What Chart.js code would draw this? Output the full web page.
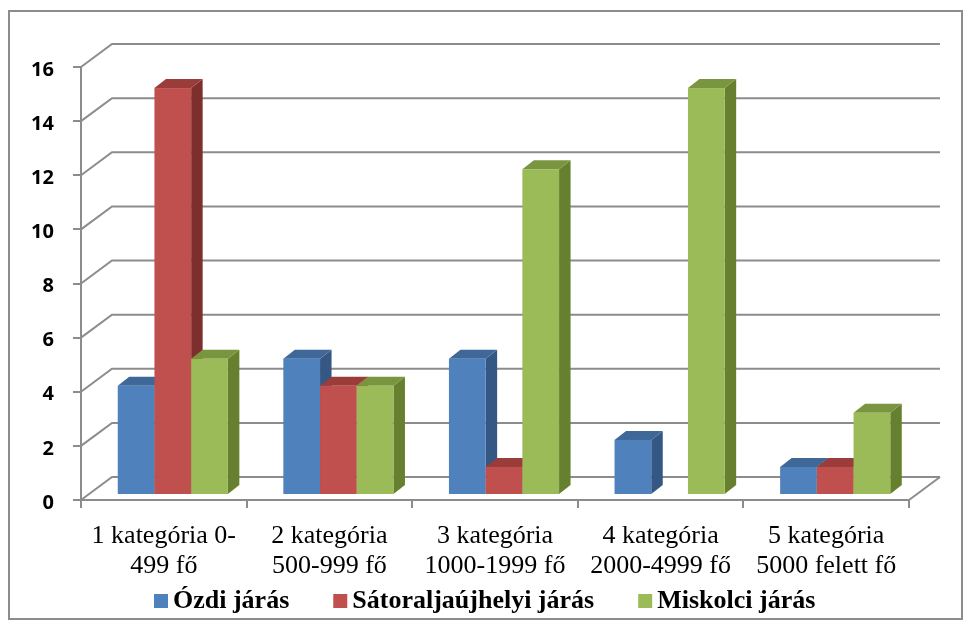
<!DOCTYPE html>
<html>
<head>
<meta charset="utf-8">
<title>Járások kategóriánként</title>
<script src="https://cdn.jsdelivr.net/npm/chart.js@4.4.1/dist/chart.umd.min.js"></script>
<style>
  html, body { margin: 0; padding: 0; background: #fff; }
  #wrap { width: 971px; height: 625px; }
</style>
</head>
<body>
<div id="wrap"><canvas id="chart" width="971" height="625"></canvas></div>
<script>
const categories = [
  ['1 kategória 0-', '499 fő'],
  ['2 kategória', '500-999 fő'],
  ['3 kategória', '1000-1999 fő'],
  ['4 kategória', '2000-4999 fő'],
  ['5 kategória', '5000 felett fő']
];
const ozdi = [4, 5, 5, 2, 1];
const satoraljaujhelyi = [15, 4, 1, 0, 1];
const miskolci = [5, 4, 12, 15, 3];
const seriesNames = ['Ózdi járás', 'Sátoraljaújhelyi járás', 'Miskolci járás'];

// front / top / side colours of the 3D columns
const faceColors = [
  { front: '#4F81BD', top: '#3F6797', side: '#355783' },
  { front: '#C0504D', top: '#9A3D3A', side: '#7E2F2D' },
  { front: '#9BBB59', top: '#7A953F', side: '#66802F' }
];

const GRID = '#8c8c8c';
const WALL_DX = 31, WALL_DY = -23;   // depth of the back wall
const BAR_OX = 9, BAR_OY = -5;       // bars stand a bit behind the front edge
const BAR_DX = 11.5, BAR_DY = -9;    // depth of each column
const LEGEND_FONT = 'bold 26px "Liberation Serif", "Times New Roman", serif';

const columns3d = {
  id: 'columns3d',
  beforeDraw(chart) {
    const ctx = chart.ctx;
    ctx.save();
    ctx.strokeStyle = GRID;
    ctx.lineWidth = 2;
    ctx.strokeRect(9, 11, 953, 608);
    ctx.restore();
  },
  beforeDatasetsDraw(chart) {
    const ctx = chart.ctx;
    const { left, right, bottom } = chart.chartArea;
    const y = chart.scales.y;

    // back wall grid + floor edges
    ctx.save();
    ctx.strokeStyle = GRID;
    ctx.lineWidth = 2;
    y.ticks.forEach(t => {
      const py = y.getPixelForValue(t.value);
      ctx.beginPath();
      ctx.moveTo(left, py);
      ctx.lineTo(left + WALL_DX, py + WALL_DY);
      ctx.lineTo(right + WALL_DX, py + WALL_DY);
      ctx.stroke();
    });
    ctx.beginPath();
    ctx.moveTo(right, bottom);
    ctx.lineTo(right + WALL_DX, bottom + WALL_DY);
    ctx.stroke();
    ctx.restore();

    // columns, left to right so each front hides the previous side face
    const metas = chart.data.datasets.map((d, i) => chart.getDatasetMeta(i));
    for (let c = 0; c < categories.length; c++) {
      metas.forEach((meta, d) => {
        const bar = meta.data[c];
        const v = chart.data.datasets[d].data[c];
        if (!bar || !v) return;
        const col = faceColors[d];
        const l = bar.x - bar.width / 2 + BAR_OX;
        const r = bar.x + bar.width / 2 + BAR_OX;
        const t = bar.y + BAR_OY - 1;
        const b = bar.base + BAR_OY;
        ctx.save();
        ctx.fillStyle = col.side;
        ctx.beginPath();
        ctx.moveTo(r, b);
        ctx.lineTo(r + BAR_DX, b + BAR_DY);
        ctx.lineTo(r + BAR_DX, t + BAR_DY);
        ctx.lineTo(r, t);
        ctx.closePath();
        ctx.fill();
        ctx.fillStyle = col.top;
        ctx.beginPath();
        ctx.moveTo(l, t);
        ctx.lineTo(l + BAR_DX, t + BAR_DY);
        ctx.lineTo(r + BAR_DX, t + BAR_DY);
        ctx.lineTo(r, t);
        ctx.closePath();
        ctx.fill();
        ctx.fillStyle = col.front;
        ctx.fillRect(l, t, r - l, b - t);
        ctx.restore();
      });
    }
    return false; // default flat bars are replaced by the 3D ones
  },
  afterDraw(chart) {
    // legend row under the axis labels, Excel-like spacing
    const ctx = chart.ctx;
    const items = chart.data.datasets.map(ds => ({ text: ds.label, color: ds.backgroundColor }));
    const box = 14, gapText = 5, gapItem = 44, cy = 601;
    ctx.save();
    ctx.font = LEGEND_FONT;
    ctx.textBaseline = 'middle';
    ctx.textAlign = 'left';
    items.forEach(it => { it.w = ctx.measureText(it.text).width; });
    const total = items.reduce((s, it) => s + box + gapText + it.w, 0) + gapItem * (items.length - 1);
    let x = Math.round(484.5 - total / 2);
    items.forEach(it => {
      ctx.fillStyle = it.color;
      ctx.fillRect(x, cy - box / 2, box, box);
      ctx.fillStyle = '#000';
      ctx.fillText(it.text, x + box + gapText, cy);
      x += box + gapText + it.w + gapItem;
    });
    ctx.restore();
  }
};

new Chart(document.getElementById('chart'), {
  type: 'bar',
  data: {
    labels: categories,
    datasets: [
      { label: seriesNames[0], data: ozdi, backgroundColor: faceColors[0].front },
      { label: seriesNames[1], data: satoraljaujhelyi, backgroundColor: faceColors[1].front },
      { label: seriesNames[2], data: miskolci, backgroundColor: faceColors[2].front }
    ]
  },
  options: {
    responsive: false,
    animation: false,
    devicePixelRatio: 1,
    categoryPercentage: 0.665,
    barPercentage: 1,
    layout: { padding: { top: 67, right: 62, left: 0, bottom: 0 } },
    plugins: {
      tooltip: { enabled: false },
      legend: { display: false }
    },
    scales: {
      x: {
        afterFit: s => { s.height = 125; },
        grid: { display: true, drawOnChartArea: false, tickLength: 8, color: GRID, lineWidth: 2 },
        border: { display: true, color: GRID, width: 2 },
        ticks: {
          color: '#000',
          padding: 13,
          maxRotation: 0,
          autoSkip: false,
          font: { family: '"Liberation Serif", "Times New Roman", serif', size: 26, lineHeight: 1.15 }
        }
      },
      y: {
        min: 0,
        max: 16,
        afterFit: s => { s.width = 81; },
        grid: { drawOnChartArea: false, tickLength: 8, color: GRID, lineWidth: 2 },
        border: { display: true, color: GRID, width: 2 },
        ticks: {
          stepSize: 2,
          color: '#000',
          padding: 19,
          labelOffset: 3,
          font: { family: '"Noto Sans", sans-serif', size: 20, weight: 'bold' }
        }
      }
    }
  },
  plugins: [columns3d]
});
</script>
</body>
</html>
